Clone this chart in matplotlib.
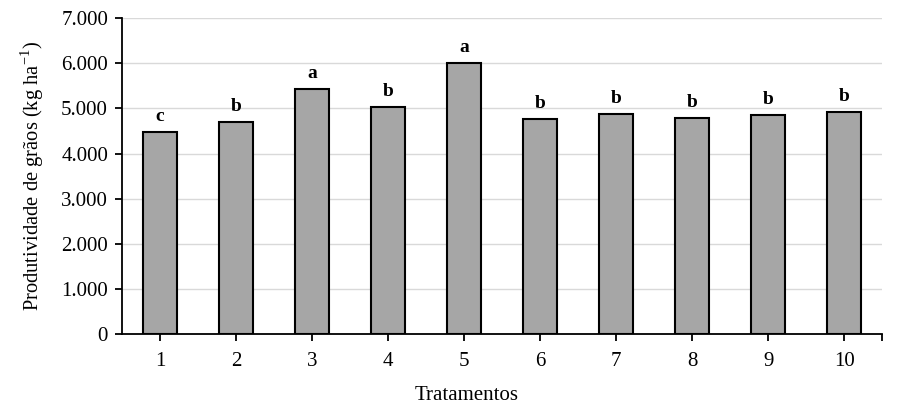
import matplotlib.pyplot as plt
import numpy as np
from matplotlib.ticker import FuncFormatter

tratamentos = ['1', '2', '3', '4', '5', '6', '7', '8', '9', '10']
produtividade = [4470, 4700, 5430, 5040, 6000, 4760, 4880, 4780, 4860, 4920]
letras = ['c', 'b', 'a', 'b', 'a', 'b', 'b', 'b', 'b', 'b']
yticks = [0, 1000, 2000, 3000, 4000, 5000, 6000, 7000]

plt.rcParams['font.family'] = ['Liberation Serif', 'DejaVu Serif']

fig = plt.figure(figsize=(9.03, 4.13), dpi=100)
ax = fig.add_axes([0.135, 0.191, 0.842, 0.765])

x = np.arange(len(tratamentos))
ax.bar(x, produtividade, width=0.45, color='#a6a6a6', edgecolor='black',
       linewidth=1.5, zorder=3)

for xi, v, l in zip(x, produtividade, letras):
    ax.annotate(l, (xi, v), xytext=(0, 5), textcoords='offset points',
                ha='center', va='bottom', fontsize=14, fontweight='bold')

ax.set_xlim(-0.5, len(tratamentos) - 0.5)
ax.set_ylim(0, 7000)
ax.set_yticks(yticks)
ax.yaxis.set_major_formatter(FuncFormatter(lambda v, p: f'{int(v):,}'.replace(',', '.')))
ax.set_xticks(x)
ax.set_xticklabels(tratamentos)
ax.set_xticks([len(tratamentos) - 0.5], minor=True)
ax.grid(axis='y', color='#d9d9d9', linewidth=1, zorder=0)

for s in ['top', 'right']:
    ax.spines[s].set_visible(False)
for s in ['left', 'bottom']:
    ax.spines[s].set_linewidth(1.3)

ax.tick_params(axis='both', which='both', direction='out', length=5, width=1.3, labelsize=15)
ax.tick_params(axis='x', pad=8)
ax.tick_params(axis='y', pad=5)

ax.set_xlabel('Tratamentos', fontsize=15)
ax.xaxis.set_label_coords(0.453, -0.163)
ax.set_ylabel('Produtividade de grãos (kg ha$^{\\mathregular{-1}}$)', fontsize=14.8, labelpad=11)

fig.savefig('out.png', dpi=100)
